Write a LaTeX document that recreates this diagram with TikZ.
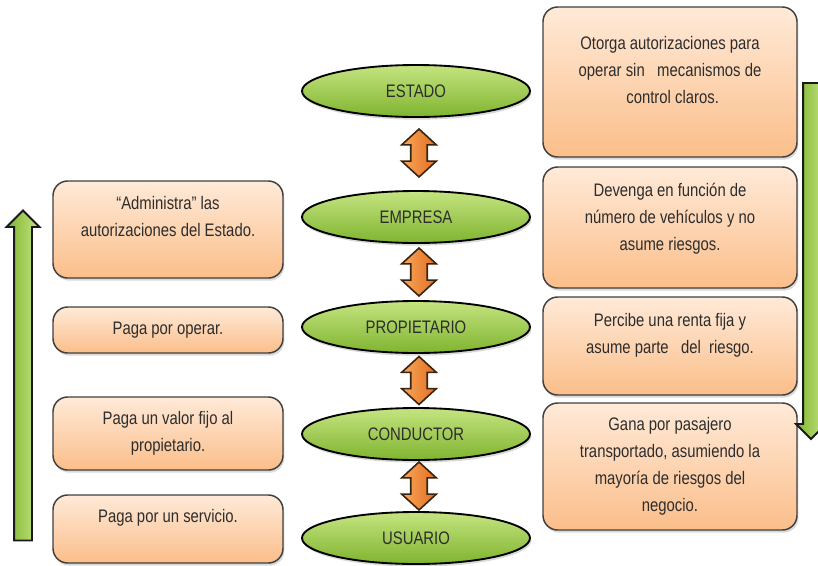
\documentclass[tikz,border=0pt]{standalone}
\usepackage{fontspec}
\setmainfont{Liberation Sans}[FakeStretch=0.82]
\usetikzlibrary{shapes.geometric,shapes.arrows,shadows,calc}

\definecolor{elltop}{RGB}{196,228,128}
\definecolor{ellbot}{RGB}{128,180,48}
\definecolor{boxtop}{RGB}{255,234,216}
\definecolor{boxbot}{RGB}{251,190,138}
\definecolor{boxline}{RGB}{64,64,64}
\definecolor{arrlight}{RGB}{248,168,90}
\definecolor{arrdark}{RGB}{226,110,34}
\definecolor{arrline}{RGB}{56,36,16}
\definecolor{txt}{RGB}{45,45,45}

\begin{document}
\begin{tikzpicture}[x=0.75pt,y=0.75pt,yscale=-1,xscale=1,
  actor/.style={ellipse, draw=black, line width=1.4pt, minimum width=171pt, minimum height=39pt,
    top color=elltop, bottom color=ellbot, text=txt, font=\fontsize{13.6}{20.3}\selectfont,
    drop shadow={shadow xshift=1pt, shadow yshift=-2pt, opacity=0.3}},
  note/.style={rectangle, rounded corners=11pt, draw=boxline, line width=1.1pt, align=center,
    top color=boxtop, bottom color=boxbot, text=txt, font=\fontsize{13.6}{20.3}\selectfont,
    drop shadow={shadow xshift=1pt, shadow yshift=-2pt, opacity=0.3}},
  lnote/.style={note, minimum width=172.5pt},
  rnote/.style={note, minimum width=190.5pt},
  link/.style={double arrow, rotate=90, draw=arrline, line width=1.2pt, left color=arrlight, right color=arrdark,
    inner sep=5.6pt, minimum height=36pt, double arrow head extend=6.75pt, double arrow tip angle=95},
  flow/.style={single arrow, draw=black!90, line width=1.4pt, left color=ellbot, right color=elltop,
    single arrow tip angle=90}
]
\useasboundingbox (0,0) rectangle (818,565);

%Shape: Ellipse [actors]
\node[actor] (estado) at (416,91) {ESTADO};
\node[actor] (empresa) at (416,217) {EMPRESA};
\node[actor] (propietario) at (416,327) {PROPIETARIO};
\node[actor] (conductor) at (416,434) {CONDUCTOR};
\node[actor] (usuario) at (416,538) {USUARIO};

%Shape: Double Arrow [links]
\node[link] (l1) at ($(estado.south)!0.5!(empresa.north)+(3,-1)$) {};
\node[link] (l2) at ($(empresa.south)!0.5!(propietario.north)+(3,0)$) {};
\node[link] (l3) at ($(propietario.south)!0.5!(conductor.north)+(3,0)$) {};
\node[link] (l4) at ($(conductor.south)!0.5!(usuario.north)+(3,0)$) {};

%Shape: Rounded Rect [left notes]
\node[lnote, minimum height=72.75pt, text depth=19.4pt] (ladmin) at (168,229.5)
  {“Administra” las\\autorizaciones del Estado.};
\node[lnote, minimum height=34.5pt] (lopera) at (168,330) {Paga por operar.};
\node[lnote, minimum height=54.75pt] (lvalor) at (168,433.5) {Paga un valor fijo al\\propietario.};
\node[lnote, minimum height=51pt, text depth=19.4pt] (lservicio) at (168,529) {Paga por un servicio.};

%Shape: Rounded Rect [right notes]
\node[rnote, minimum height=112.5pt, text depth=17.9pt] (rotorga) at (670,82)
  {Otorga autorizaciones para\\operar sin\ \ \ mecanismos de\\control claros.\hspace*{-4pt}};
\node[rnote, minimum height=90.75pt, text depth=15.6pt] (rdevenga) at (670,227.5)
  {Devenga en función de\\número de vehículos y no\\asume riesgos.};
\node[rnote, minimum height=73.5pt, text depth=18.6pt] (rpercibe) at (670,346)
  {Percibe una renta fija y\\asume parte\ \ \ del\ \ riesgo.};
\node[rnote, minimum height=95.25pt] (rgana) at (670,466.5)
  {Gana por pasajero\\transportado, asumiendo la\\mayoría de riesgos del\\negocio.};

%Shape: Single Arrow [flows]
\node[flow, rotate=90, minimum height=247.5pt, inner sep=6pt, single arrow head extend=5.6pt] (subir) at (23,380) {};
\node[flow, rotate=-90, minimum height=267pt, inner sep=5.25pt, single arrow head extend=5.25pt] (bajar) at (811,257) {};

\end{tikzpicture}
\end{document}
